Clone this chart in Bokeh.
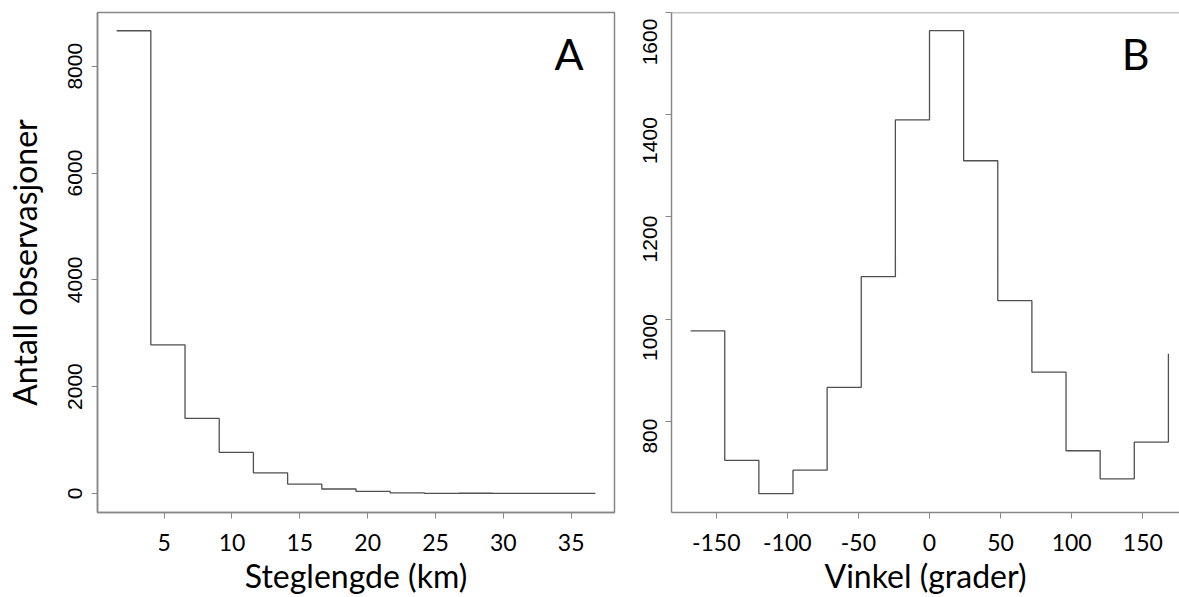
from bokeh.plotting import figure
from bokeh.layouts import row
from bokeh.models import Range1d, LinearAxis, FixedTicker, CustomJSTickFormatter, Label, Span
from bokeh.embed import file_html
from bokeh.resources import INLINE

# ---- data ----
steg_x = [1.5, 4.02, 6.54, 9.06, 11.58, 14.1, 16.62, 19.14, 21.66, 24.18, 26.7, 29.22, 31.74, 34.26, 36.78]
steg_n = [8665, 2783, 1404, 768, 384, 174, 82, 37, 10, 0, 3, 0, 0, 0, 0]
steg_ticks = [5, 10, 15, 20, 25, 30, 35]
steg_yticks = [0, 2000, 4000, 6000, 8000]

vinkel_x = [-168, -144, -120, -96, -72, -48, -24, 0, 24, 48, 72, 96, 120, 144, 168]
vinkel_n = [977, 723, 658, 704, 866, 1083, 1390, 1565, 1310, 1036, 896, 742, 687, 759, 932]
vinkel_ticks = [-150, -100, -50, 0, 50, 100, 150]
vinkel_yticks = [800, 1000, 1200, 1400, 1600]

LINE = "#505050"
FRAME = "#878787"
CAL = "Lato"
ARIAL = "Liberation Sans"
H = 597
PLAIN = CustomJSTickFormatter(code="return tick.toString()")


def style(p, xticks, yticks):
    p.xgrid.visible = False
    p.ygrid.visible = False
    p.background_fill_color = "white"
    p.border_fill_color = "white"
    xa = p.xaxis[0]
    xa.ticker = FixedTicker(ticks=xticks)
    xa.formatter = PLAIN
    xa.axis_line_color = FRAME
    xa.axis_line_width = 1.5
    xa.major_tick_line_color = FRAME
    xa.major_tick_out = 6
    xa.major_tick_in = 0
    xa.minor_tick_line_color = None
    xa.major_label_text_font = CAL
    xa.major_label_text_font_size = "23px"
    xa.major_label_text_color = "black"
    xa.major_label_standoff = 15
    xa.axis_label_text_font = CAL
    xa.axis_label_text_font_size = "32px"
    xa.axis_label_text_font_style = "normal"
    xa.axis_label_text_color = "black"
    xa.axis_label_standoff = 2
    ya = p.yaxis[0]
    ya.ticker = FixedTicker(ticks=yticks)
    ya.axis_line_color = FRAME
    ya.axis_line_width = 1.5
    ya.major_tick_line_color = FRAME
    ya.major_tick_out = 6
    ya.major_tick_in = 0
    ya.minor_tick_line_color = None
    ya.major_label_text_font = ARIAL
    ya.major_label_text_font_size = "21px"
    ya.major_label_text_color = "black"
    ya.major_label_orientation = "vertical"
    ya.major_label_standoff = 9


# ---- panel A ----
pa = figure(width=630, height=H, output_backend="svg", toolbar_location=None,
            x_range=Range1d(0.09, 38.19), y_range=Range1d(-358, 9007),
            min_border_left=97, min_border_right=16, min_border_top=12, min_border_bottom=80,
            x_axis_label="Steglengde (km)", y_axis_label="Antall observasjoner")
style(pa, steg_ticks, steg_yticks)
pa.outline_line_color = FRAME
pa.outline_line_width = 1.5
pa.yaxis[0].axis_label_text_font = CAL
pa.yaxis[0].axis_label_text_font_size = "32px"
pa.yaxis[0].axis_label_text_font_style = "normal"
pa.yaxis[0].axis_label_text_color = "black"
pa.yaxis[0].axis_label_standoff = 22
pa.step(x=steg_x, y=steg_n, mode="after", line_color=LINE, line_width=1.3)
pa.add_layout(Label(x=34.85, y=8247, text="A", text_font=CAL, text_font_size="43px",
                    text_align="center", text_baseline="middle", text_color="black"))

# ---- panel B ----
pb = figure(width=549, height=H, output_backend="svg", toolbar_location=None,
            x_range=Range1d(-181.44, 175.8), y_range=Range1d(621.1, 1600.4),
            min_border_left=41, min_border_right=0, min_border_top=12, min_border_bottom=80,
            x_axis_label="Vinkel (grader)")
style(pb, vinkel_ticks, vinkel_yticks)
pb.outline_line_color = None
# tick marks only on the main axis
pb.yaxis[0].formatter = CustomJSTickFormatter(code="return ''")
pb.yaxis[0].major_label_text_font_size = "0px"
pb.yaxis[0].major_label_standoff = 0
# labels as placed in the reference, on their own axis
pb.extra_y_ranges = {"lab": Range1d(644.8, 1659.9)}
lab_axis = LinearAxis(y_range_name="lab", ticker=FixedTicker(ticks=vinkel_yticks),
                      axis_line_color=None, major_tick_line_color=None, minor_tick_line_color=None,
                      major_tick_out=0, major_tick_in=0, major_label_standoff=8,
                      major_label_text_font=ARIAL, major_label_text_font_size="21px",
                      major_label_text_color="black", major_label_orientation="vertical")
pb.add_layout(lab_axis, "left")
pb.add_layout(Span(location=1600.4, dimension="width", line_color=FRAME, line_width=1.5))
pb.step(x=vinkel_x, y=vinkel_n, mode="after", line_color=LINE, line_width=1.3)
pb.add_layout(Label(x=144.9, y=1521, text="B", text_font=CAL, text_font_size="43px",
                    text_align="center", text_baseline="middle", text_color="black"))

layout = row(pa, pb)
open("out.html", "w").write(file_html(layout, INLINE))
